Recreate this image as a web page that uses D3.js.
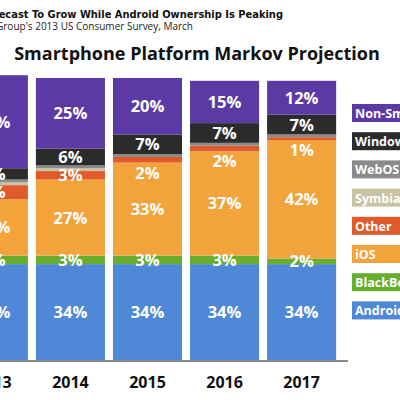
<!DOCTYPE html>
<html><head><meta charset="utf-8">
<script src="https://cdn.jsdelivr.net/npm/d3@7"></script>
<style>body{margin:0;background:#fff}text{font-family:"Open Sans",sans-serif}</style>
</head><body>
<svg id="chart" width="400" height="400"></svg>
<script>
var years = ["2013", "2014", "2015", "2016", "2017"];
var platforms = ["Android", "BlackBerry", "iOS", "Other", "Symbian", "WebOS", "Windows", "Non-Smartphone"];
var colors = ["#4f88d6", "#69ad2f", "#f2a33c", "#e05a2b", "#c9c2a3", "#8a8a8a", "#2b2b2b", "#5b3aa6"];
var android = [34, 34, 34, 34, 34];
var blackberry = [3, 3, 3, 3, 2];
var ios = [20, 27, 33, 37, 42];
var other = [5, 3, 2, 2, 1];
var symbian = [1, 1, 0, 0, 0];
var webos = [1, 1, 1, 1, 1];
var windows = [4, 6, 7, 7, 7];
var nonsmart = [33, 25, 20, 15, 12];
var series = [android, blackberry, ios, other, symbian, webos, windows, nonsmart];
var labelled = [true, true, true, true, false, false, true, true];

var svg = d3.select("#chart");

svg.append("text").attr("x", 283).attr("y", 18).attr("text-anchor", "end")
  .attr("font-size", 11).attr("font-weight", "bold")
  .attr("fill", "#111").style("font-family", "'Liberation Sans Narrow','DejaVu Sans Condensed',sans-serif")
  .text("iPhone's Share Is Forecast To Grow While Android Ownership Is Peaking");
svg.append("text").attr("x", 193).attr("y", 30).attr("text-anchor", "end")
  .attr("font-size", 10).attr("fill", "#222")
  .text("Source: The Yankee Group's 2013 US Consumer Survey, March");
svg.append("text").attr("x", 197).attr("y", 60).attr("text-anchor", "middle")
  .attr("font-size", 18).attr("font-weight", "bold").attr("fill", "#111")
  .text("Smartphone Platform Markov Projection");

var x = d3.scaleBand().domain(years).range([-45, 340]).paddingInner(0.104).paddingOuter(0.05);
var y = d3.scaleLinear().domain([0, 100]).range([360, 78]);

var rows = years.map(function (yr, i) {
  var r = { year: yr };
  platforms.forEach(function (p, j) { r[p] = series[j][i]; });
  return r;
});
var stack = d3.stack().keys(platforms)(rows);

stack.forEach(function (layer, j) {
  svg.append("g").selectAll("rect").data(layer).join("rect")
    .attr("x", function (d) { return x(d.data.year); })
    .attr("width", x.bandwidth())
    .attr("y", function (d) { return y(d[1]); })
    .attr("height", function (d) { return y(d[0]) - y(d[1]); })
    .attr("fill", colors[j]);
});

stack.forEach(function (layer, j) {
  if (!labelled[j]) return;
  svg.append("g").selectAll("text").data(layer).join("text")
    .attr("x", function (d) { return x(d.data.year) + x.bandwidth() / 2; })
    .attr("y", function (d) {
      var v = d[1] - d[0];
      if (platforms[j] == "Other" && v < 3) return y(d[0]) + 16;
      return (y(d[0]) + y(d[1])) / 2 + 6;
    })
    .attr("text-anchor", "middle").attr("font-size", 16.5).attr("font-weight", "bold")
    .attr("fill", "#fff")
    .text(function (d) { return (d[1] - d[0]) + "%"; });
});

svg.append("line").attr("x1", 0).attr("x2", 348).attr("y1", 361).attr("y2", 361)
  .attr("stroke", "#111").attr("stroke-width", 1);

svg.append("g").attr("transform", "translate(0,388)")
  .selectAll("text").data(years).join("text")
  .attr("x", function (d) { return x(d) + x.bandwidth() / 2; })
  .attr("text-anchor", "middle").attr("font-size", 16).attr("font-weight", "bold").attr("fill", "#111")
  .text(function (d) { return d; });

var legend = platforms.slice().reverse();
var lg = svg.append("g").selectAll("g").data(legend).join("g")
  .attr("transform", function (d, i) { return "translate(352," + (104 + i * 28.2) + ")"; });
lg.append("rect").attr("width", 60).attr("height", 18)
  .attr("fill", function (d) { return colors[platforms.indexOf(d)]; });
lg.append("text").attr("x", 3).attr("y", 14).attr("font-size", 12.5).attr("font-weight", "bold")
  .attr("fill", "#fff").text(function (d) { return d; });
</script>
</body></html>
